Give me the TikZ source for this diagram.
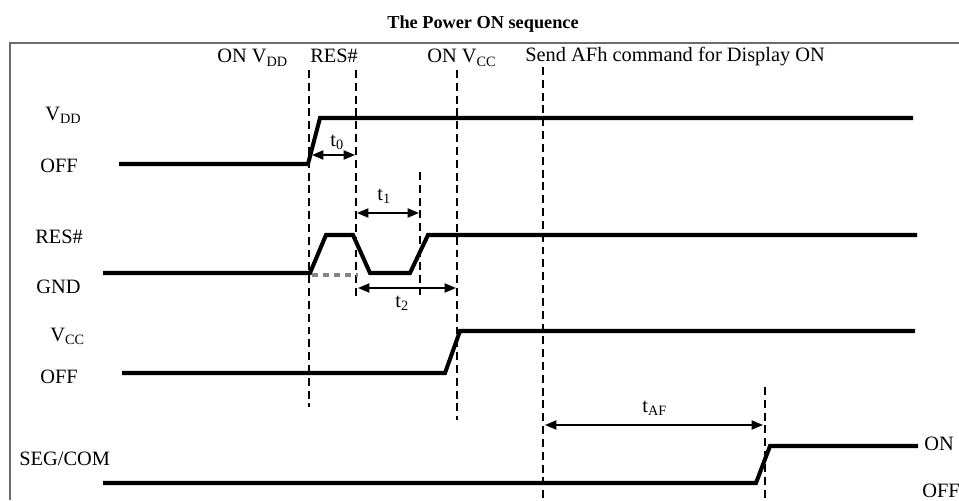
\documentclass[tikz,border=0pt]{standalone}
\usepackage{fontspec}
\setmainfont{Liberation Serif}
\usetikzlibrary{arrows.meta}
\begin{document}
\begin{tikzpicture}[x=0.02cm,y=-0.02cm,
    every node/.style={font=\fontsize{11.6}{13}\selectfont,inner sep=0pt,anchor=base west},
    wave/.style={line width=2.3pt,line join=miter},
    guide/.style={line width=0.8pt,dash pattern=on 4.5pt off 2.8pt},
    span/.style={line width=0.9pt,{Triangle[length=6.5pt,width=5.2pt]}-{Triangle[length=6.5pt,width=5.2pt]}}]
    \useasboundingbox (0,0) rectangle (959,500);
    % title and frame
    \node[font=\bfseries\fontsize{10.4}{12}\selectfont,anchor=base] (title) at (483,29) {The Power ON sequence};
    \draw[gray!85!black,line width=1.1pt] (959,43) -- (10,43) -- (10,500);
    % event labels
    \node (onvdd) at (217,63) {ON V\textsubscript{DD}};
    \node (resev) at (310,63) {RES\#};
    \node (onvcc) at (427,63) {ON V\textsubscript{CC}};
    \node (afh) at (525,62) {Send AFh command for Display ON};
    % signal labels
    \node (vdd) at (45,120) {V\textsubscript{DD}};
    \node (vddoff) at (40,172) {OFF};
    \node (res) at (35,243) {RES\#};
    \node (gnd) at (36,293) {GND};
    \node (vcc) at (50,341) {V\textsubscript{CC}};
    \node (vccoff) at (40,383) {OFF};
    \node (seg) at (19,465) {SEG/COM};
    \node (segon) at (924,450) {ON};
    \node (segoff) at (922,497) {OFF};
    % dashed guides
    \draw[guide] (309,70) -- (309,407);
    \draw[guide] (356,70) -- (356,298);
    \draw[guide] (420,172) -- (420,297);
    \draw[guide] (457,70) -- (457,420);
    \draw[guide] (543,67) -- (543,500);
    \draw[guide] (765,387) -- (765,500);
    % waveforms
    \draw[wave] (119,164) -- (308,164) -- (320,118) -- (913,118);
    \draw[wave] (103,273) -- (310,273) -- (326,235) -- (353,235) -- (370,273)
        -- (410,273) -- (428,235) -- (917,235);
    \draw[black!48,line width=2.5pt,dash pattern=on 3.6pt off 2.6pt] (312,275) -- (358,275);
    \draw[wave] (122,373) -- (445,373) -- (460,331) -- (915,331);
    \draw[wave] (103,483) -- (756,483) -- (770,446) -- (918,446);
    % timing spans
    \coordinate (t0a) at (312,155);
    \coordinate (t0b) at (355,155);
    \coordinate (t1a) at (357,213);
    \coordinate (t1b) at (419,213);
    \coordinate (t2a) at (358,288);
    \coordinate (t2b) at (456,288);
    \coordinate (tafa) at (545,425);
    \coordinate (tafb) at (763,425);
    \draw[span] (t0a) -- (t0b);
    \draw[span] (t1a) -- (t1b);
    \draw[span] (t2a) -- (t2b);
    \draw[span] (tafa) -- (tafb);
    \node (t0) at (330,146) {t\textsubscript{0}};
    \node (t1) at (377,200) {t\textsubscript{1}};
    \node (t2) at (395,307) {t\textsubscript{2}};
    \node (taf) at (642,412) {t\textsubscript{AF}};
\end{tikzpicture}
\end{document}
